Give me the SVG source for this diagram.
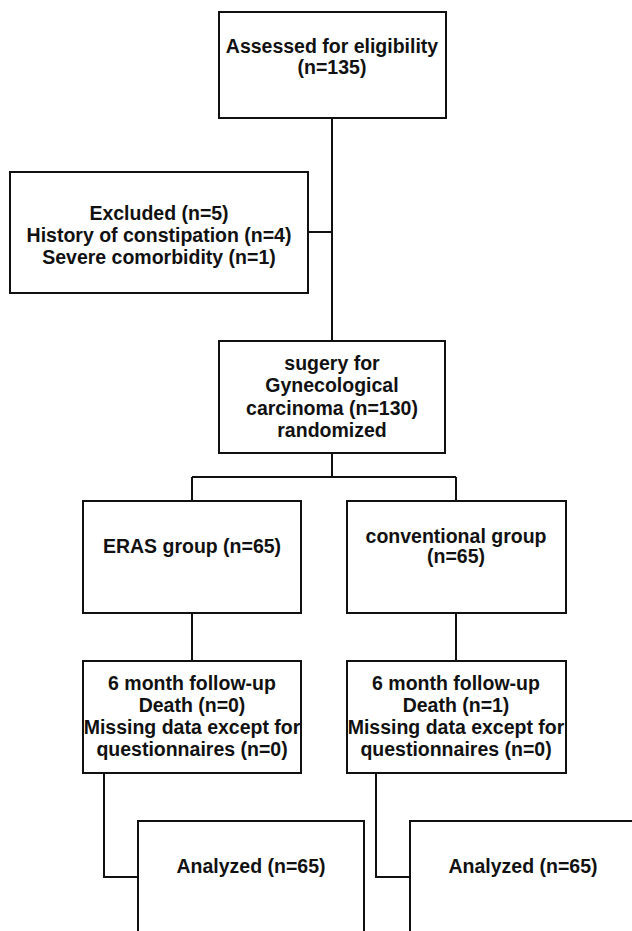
<svg xmlns="http://www.w3.org/2000/svg" width="632" height="931" viewBox="0 0 632 931">
<style>
.box{fill:#fff;stroke:#111;stroke-width:2}
.ln{fill:none;stroke:#111;stroke-width:2}
text{font-family:"Liberation Sans",Arial,sans-serif;font-weight:bold;font-size:19.5px;fill:#111;text-anchor:middle}
</style>
<rect width="632" height="931" fill="#fff"/>
<g id="connectors">
<path class="ln" d="M332 118V341"/>
<path class="ln" d="M308 232H332"/>
<path class="ln" d="M332 453V477M192 477H456M192 477V501M456 477V501"/>
<path class="ln" d="M192 613V661M456 613V661"/>
<path class="ln" d="M104 773V877H138"/>
<path class="ln" d="M376 773V877H410"/>
</g>
<g id="assessed">
<rect class="box" x="219" y="12" width="227" height="106"/>
<text x="332" y="53">Assessed for eligibility</text>
<text x="332" y="74">(n=135)</text>
</g>
<g id="excluded">
<rect class="box" x="10" y="172" width="298" height="121"/>
<text x="159" y="220">Excluded (n=5)</text>
<text x="159" y="242">History of constipation (n=4)</text>
<text x="159" y="264">Severe comorbidity (n=1)</text>
</g>
<g id="randomized">
<rect class="box" x="219" y="341" width="226" height="112"/>
<text x="332" y="370">sugery for</text>
<text x="332" y="392">Gynecological</text>
<text x="332" y="415">carcinoma (n=130)</text>
<text x="332" y="437">randomized</text>
</g>
<g id="eras">
<rect class="box" x="83" y="501" width="218" height="112"/>
<text x="192" y="553">ERAS group (n=65)</text>
</g>
<g id="conventional">
<rect class="box" x="347" y="501" width="219" height="112"/>
<text x="456" y="543">conventional group</text>
<text x="456" y="563">(n=65)</text>
</g>
<g id="followup-eras">
<rect class="box" x="83" y="661" width="218" height="112"/>
<text x="192" y="690">6 month follow-up</text>
<text x="192" y="712">Death (n=0)</text>
<text x="192" y="734">Missing data except for</text>
<text x="192" y="756">questionnaires (n=0)</text>
</g>
<g id="followup-conventional">
<rect class="box" x="347" y="661" width="219" height="112"/>
<text x="456" y="690">6 month follow-up</text>
<text x="456" y="712">Death (n=1)</text>
<text x="456" y="734">Missing data except for</text>
<text x="456" y="756">questionnaires (n=0)</text>
</g>
<g id="analyzed-eras">
<rect class="box" x="138" y="821" width="226" height="130"/>
<text x="251" y="873">Analyzed (n=65)</text>
</g>
<g id="analyzed-conventional">
<rect class="box" x="410" y="821" width="226" height="130"/>
<text x="523" y="873">Analyzed (n=65)</text>
</g>
</svg>
